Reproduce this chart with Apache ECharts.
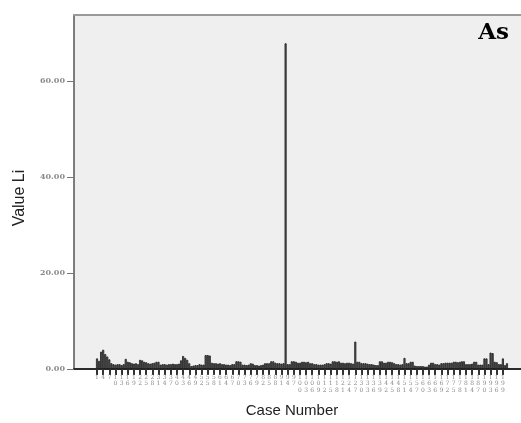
<!DOCTYPE html>
<html><head><meta charset="utf-8">
<script src="https://cdn.jsdelivr.net/npm/echarts@6/dist/echarts.min.js"></script>
<style>html,body{margin:0;padding:0;background:#fff}#c{width:521px;height:423px}</style>
</head><body><div id="c"></div>
<script>
const caseNumbers = [1,2,3,4,5,6,7,8,9,10,11,12,13,14,15,16,17,18,19,20,21,22,23,24,25,26,27,28,29,30,
31,32,33,34,35,36,37,38,39,40,41,42,43,44,45,46,47,48,49,50,51,52,53,54,55,56,57,58,59,60,
61,62,63,64,65,66,67,68,69,70,71,72,73,74,75,76,77,78,79,80,81,82,83,84,85,86,87,88,89,90,
91,92,93,94,95,96,97,98,99,100,101,102,103,104,105,106,107,108,109,110,111,112,113,114,115,116,117,118,119,120,
121,122,123,124,125,126,127,128,129,130,131,132,133,134,135,136,137,138,139,140,141,142,143,144,145,146,147,148,149,150,
151,152,153,154,155,156,157,158,159,160,161,162,163,164,165,166,167,168,169,170,171,172,173,174,175,176,177,178,179,180,
181,182,183,184,185,186,187,188,189,190,191,192,193,194,195,196,197,198,199,200,201];
const valueLi = [
2.2,1.7,3.6,4.0,3.1,2.6,2.0,1.2,1.0,0.9,
1.0,1.0,0.8,1.0,2.1,1.5,1.4,1.2,1.1,1.2,
1.0,1.9,1.8,1.5,1.4,1.2,1.1,1.2,1.3,1.5,
1.5,0.9,1.0,1.0,0.9,1.0,1.0,1.1,1.0,1.0,
1.1,1.8,2.7,2.3,1.9,1.2,0.6,0.7,0.8,0.8,
1.0,0.9,0.9,2.9,2.9,2.8,1.3,1.2,1.2,1.1,
1.2,1.0,1.0,0.9,0.9,0.8,1.0,1.0,1.6,1.6,
1.5,0.9,0.9,0.8,0.9,1.2,1.1,0.8,0.8,0.7,
0.8,0.9,1.2,1.2,1.2,1.6,1.6,1.3,1.2,1.2,
1.1,1.2,67.8,1.0,1.0,1.6,1.6,1.5,1.3,1.3,
1.5,1.5,1.4,1.5,1.2,1.2,1.0,1.0,0.9,0.9,
0.9,1.0,1.2,1.2,1.1,1.6,1.6,1.5,1.6,1.3,
1.3,1.2,1.3,1.3,1.2,1.1,5.7,1.5,1.5,1.2,
1.2,1.2,1.1,1.0,1.0,0.9,0.8,0.8,1.6,1.6,
1.3,1.3,1.5,1.5,1.4,1.2,1.0,1.0,0.9,1.0,
2.3,1.2,1.2,1.5,1.5,0.7,0.6,0.6,0.6,0.6,
0.5,0.5,0.9,1.3,1.3,1.0,1.0,0.9,1.2,1.2,
1.3,1.3,1.3,1.3,1.5,1.5,1.4,1.5,1.6,1.6,
1.0,1.0,1.0,1.1,1.5,1.5,0.9,0.9,0.9,2.2,
2.2,1.0,3.4,3.3,1.5,1.4,1.0,1.0,2.2,0.8,
1.2];
const yTicks = [0, 20, 40, 60];
const chartTitle = 'As';
const xName = 'Case Number';
const yName = 'Value Li';

const chart = echarts.init(document.getElementById('c'), null, {renderer: 'canvas'});
chart.setOption({
  animation: false,
  backgroundColor: '#ffffff',
  grid: [
    {left: 74, top: 15, width: 470, bottom: 54, outerBoundsMode: 'none',
     show: true, backgroundColor: '#efefef', borderWidth: 0},
    {left: 96, top: 15, right: 13, bottom: 54, outerBoundsMode: 'none'}
  ],
  xAxis: [
    {gridIndex: 0, type: 'value', min: 0, max: 1, position: 'bottom',
     axisLine: {show: true, onZero: false, lineStyle: {color: '#2a2a2a', width: 2}},
     axisTick: {show: false}, axisLabel: {show: false}, splitLine: {show: false}},
    {gridIndex: 1, type: 'category', data: caseNumbers.map(String),
     axisLine: {show: false},
     axisTick: {show: true, interval: 2, alignWithLabel: true, length: 6, lineStyle: {color: '#333', width: 2}},
     axisLabel: {interval: 2, margin: 5, fontFamily: 'DejaVu Serif', fontSize: 6, color: '#8a8a8a', lineHeight: 6.5,
                 formatter: v => String(v).split('').join('\n')},
     name: xName, nameLocation: 'middle', nameGap: 34,
     nameTextStyle: {fontFamily: 'Liberation Sans', fontSize: 15, color: '#222', padding: [0, 20, 0, 0]}},
    {gridIndex: 0, type: 'value', min: 0, max: 1, position: 'top',
     axisLine: {show: true, onZero: false, lineStyle: {color: '#9a9a9a', width: 2}},
     axisTick: {show: false}, axisLabel: {show: false}, splitLine: {show: false}}
  ],
  yAxis: [
    {gridIndex: 0, type: 'value', min: 0, max: 73.7,
     axisLine: {show: true, lineStyle: {color: '#555', width: 1.5}},
     axisTick: {show: true, customValues: yTicks, length: 7, lineStyle: {color: '#777', width: 1}},
     axisLabel: {customValues: yTicks, formatter: v => Number(v).toFixed(2), margin: 9,
                 fontFamily: 'DejaVu Serif', fontWeight: 'bold', fontSize: 8, color: '#8a8a8a'},
     splitLine: {show: false},
     name: yName, nameLocation: 'middle', nameGap: 46,
     nameTextStyle: {fontFamily: 'Liberation Sans', fontSize: 16, color: '#222', padding: [0, 12, 0, 0]}},
    {gridIndex: 1, type: 'value', min: 0, max: 73.7, show: false}
  ],
  series: [{
    type: 'bar', xAxisIndex: 1, yAxisIndex: 1, data: valueLi,
    barCategoryGap: '0%',
    itemStyle: {color: '#5e5e5e', borderColor: '#1a1a1a', borderWidth: 0.8}
  }],
  graphic: [{
    type: 'text', right: 12, top: 22,
    style: {text: chartTitle, font: 'bold 23px "DejaVu Serif"', fill: '#000'}
  }]
});
</script>
</body></html>
